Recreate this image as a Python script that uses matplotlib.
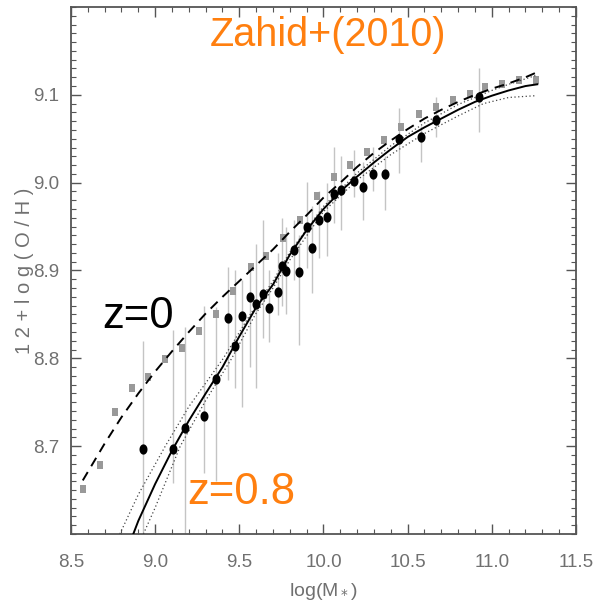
import numpy as np
import matplotlib
matplotlib.use('Agg')
import matplotlib.pyplot as plt
from matplotlib.path import Path

# ---- data ----
# z~0 binned points (gray squares)
sdss_x = [8.57, 8.67, 8.76, 8.86, 8.96, 9.06, 9.16, 9.26, 9.36, 9.46, 9.57, 9.66, 9.76, 9.86,
          9.96, 10.06, 10.16, 10.26, 10.36, 10.46, 10.57, 10.67, 10.77, 10.87, 10.96, 11.06,
          11.16, 11.26]
sdss_y = [8.651, 8.679, 8.739, 8.766, 8.779, 8.799, 8.812, 8.831, 8.851, 8.877, 8.904, 8.917,
          8.937, 8.957, 8.985, 9.006, 9.020, 9.035, 9.049, 9.063, 9.078, 9.086, 9.094, 9.101,
          9.109, 9.112, 9.117, 9.117]

# z~0.8 points (black circles) with error-bar extents
deep_x = [8.925, 9.105, 9.177, 9.288, 9.363, 9.435, 9.472, 9.514, 9.562, 9.601, 9.641, 9.679,
          9.728, 9.756, 9.780, 9.822, 9.855, 9.903, 9.930, 9.976, 10.022, 10.061, 10.105,
          10.180, 10.234, 10.292, 10.367, 10.448, 10.579, 10.671, 10.925]
deep_y = [8.697, 8.697, 8.721, 8.734, 8.776, 8.846, 8.814, 8.848, 8.870, 8.862, 8.873, 8.857,
          8.876, 8.905, 8.899, 8.923, 8.898, 8.950, 8.926, 8.957, 8.961, 8.987, 8.992,
          9.002, 8.995, 9.010, 9.010, 9.050, 9.052, 9.071, 9.097]
deep_top = [8.820, 8.832, 8.836, 8.860, 8.858, 8.904, 8.900, 8.889, 8.904, 8.930, 8.957, 8.900,
            8.920, 8.960, 8.950, 8.957, 8.940, 9.001, 8.973, 8.990, 9.000, 9.041, 9.030,
            9.037, 9.024, 9.041, 9.030, 9.085, 9.064, 9.098, 9.130]
deep_bot = [8.550, 8.658, 8.550, 8.670, 8.660, 8.775, 8.766, 8.745, 8.790, 8.766, 8.823, 8.819,
            8.849, 8.860, 8.850, 8.889, 8.815, 8.903, 8.874, 8.914, 8.916, 8.954, 8.946,
            8.984, 8.957, 8.990, 8.969, 9.011, 9.024, 9.052, 9.058]

# fitted relations
fit0_x = [8.57, 8.7, 8.8, 8.9, 9.0, 9.1, 9.2, 9.3, 9.4, 9.5, 9.6, 9.7, 9.8, 9.9, 10.0, 10.1,
          10.2, 10.3, 10.4, 10.5, 10.6, 10.7, 10.8, 10.9, 11.0, 11.1, 11.2, 11.26]
fit0_y = [8.661, 8.703, 8.733, 8.760, 8.785, 8.808, 8.830, 8.851, 8.870, 8.888, 8.906, 8.924,
          8.944, 8.963, 8.983, 9.000, 9.018, 9.034, 9.048, 9.061, 9.073, 9.083, 9.092, 9.100,
          9.107, 9.113, 9.120, 9.125]

fit08_x = [8.87, 8.9, 9.0, 9.1, 9.2, 9.3, 9.4, 9.5, 9.6, 9.7, 9.8, 9.9, 10.0, 10.1, 10.2, 10.3,
           10.4, 10.5, 10.6, 10.7, 10.8, 10.9, 11.0, 11.1, 11.2, 11.27]
fit08_y = [8.600, 8.615, 8.657, 8.695, 8.729, 8.760, 8.790, 8.825, 8.858, 8.884, 8.918, 8.946,
           8.970, 8.990, 9.007, 9.023, 9.038, 9.052, 9.063, 9.073, 9.083, 9.092, 9.099, 9.105,
           9.110, 9.112]

band_up_x = [8.79, 8.9, 9.06, 9.2, 9.405, 9.565, 9.7, 9.8, 10.0, 10.2, 10.4, 10.6, 10.8, 11.0,
             11.1, 11.26]
band_up_y = [8.600, 8.645, 8.700, 8.745, 8.800, 8.850, 8.888, 8.921, 8.973, 9.011, 9.042,
             9.068, 9.089, 9.105, 9.112, 9.122]
band_lo_x = [8.93, 9.0, 9.149, 9.3, 9.455, 9.595, 9.7, 9.8, 10.0, 10.2, 10.4, 10.6, 10.8,
             10.95, 11.1, 11.26]
band_lo_y = [8.600, 8.630, 8.700, 8.752, 8.800, 8.850, 8.880, 8.912, 8.967, 9.003, 9.032,
             9.056, 9.076, 9.090, 9.097, 9.099]

xticks = [8.5, 9.0, 9.5, 10.0, 10.5, 11.0, 11.5]
yticks = [8.7, 8.8, 8.9, 9.0, 9.1]

# ---- drawing ----
fig = plt.figure(figsize=(5.93, 6.08), dpi=100)
ax = fig.add_axes([71/593, 1-534/608, (576-71)/593, (534-7)/608])

t = np.linspace(0, 2*np.pi, 41)
ell = Path(np.column_stack([0.78*np.cos(t), np.sin(t)]), closed=True)
sq = Path([(-0.85, -1), (0.85, -1), (0.85, 1), (-0.85, 1), (-0.85, -1)], closed=True)

dy = np.array(deep_y)
yerr = [dy - np.array(deep_bot), np.array(deep_top) - dy]
ax.errorbar(deep_x, deep_y, yerr=yerr, fmt='none', ecolor='#c4c4c4', elinewidth=1.0,
            capsize=0, zorder=1)
ax.plot(sdss_x, sdss_y, linestyle='none', marker=sq, markersize=5.5, color='#999999',
        markeredgewidth=0, zorder=2)
ax.plot(fit0_x, fit0_y, color='black', linestyle=(0, (5, 3.5)), linewidth=1.4, zorder=3)
ax.plot(band_up_x, band_up_y, color='#444444', linestyle=(0, (1, 2)), linewidth=0.9, zorder=3)
ax.plot(band_lo_x, band_lo_y, color='#444444', linestyle=(0, (1, 2)), linewidth=0.9, zorder=3)
ax.plot(fit08_x, fit08_y, color='black', linestyle='-', linewidth=1.4, zorder=3)
ax.plot(deep_x, deep_y, linestyle='none', marker=ell, markersize=7.4, color='black',
        markeredgewidth=0, zorder=4)

ax.set_xlim(8.5, 11.5)
ax.set_ylim(8.6, 9.2)
ax.set_xticks(xticks)
ax.set_yticks(yticks)
ax.set_xticklabels([f'{v:.1f}' for v in xticks])
ax.set_yticklabels([f'{v:.1f}' for v in yticks])
ax.set_xticks(np.arange(8.5, 11.51, 0.1), minor=True)
ax.set_yticks(np.arange(8.6, 9.201, 0.01), minor=True)

tick_font = ['Liberation Sans Narrow', 'Liberation Sans', 'DejaVu Sans']
ax.tick_params(which='both', direction='in', top=True, right=True, color='#555555')
ax.tick_params(which='major', length=7.5, width=1.0, labelsize=13.5, labelcolor='#707070')
ax.tick_params(axis='x', which='major', pad=14.5)
ax.tick_params(axis='y', which='major', pad=8.5)
ax.tick_params(which='minor', length=3.8, width=0.8)
for lab in ax.get_xticklabels() + ax.get_yticklabels():
    lab.set_family(tick_font)
for s in ax.spines.values():
    s.set_color('#555555')
    s.set_linewidth(1.3)

ax.set_xlabel(r'log(M$_*$)', color='#707070', fontsize=14, family=tick_font)
ax.xaxis.set_label_coords(0.5, -(592 - 534) / 527, transform=ax.transAxes)
ax.set_ylabel('1 2 + l o g ( O / H )', color='#707070', fontsize=14.5, family=tick_font)
ax.yaxis.set_label_coords(-(71 - 25) / 505, 0.5, transform=ax.transAxes)
ax.xaxis.label.set_va('center')
ax.yaxis.label.set_va('center')

orange = '#FF7F0F'
fig.text(328/593, 1-35/608, 'Zahid+(2010)', color=orange, fontsize=28.5,
         family='Liberation Sans', ha='center', va='center')
fig.text(102/593, 1-316/608, 'z=0', color='black', fontsize=31.5,
         family='Liberation Sans', ha='left', va='center')
fig.text(187/593, 1-492/608, 'z=0.8', color=orange, fontsize=31.5,
         family='Liberation Sans', ha='left', va='center')

fig.savefig('out.png', dpi=100)
